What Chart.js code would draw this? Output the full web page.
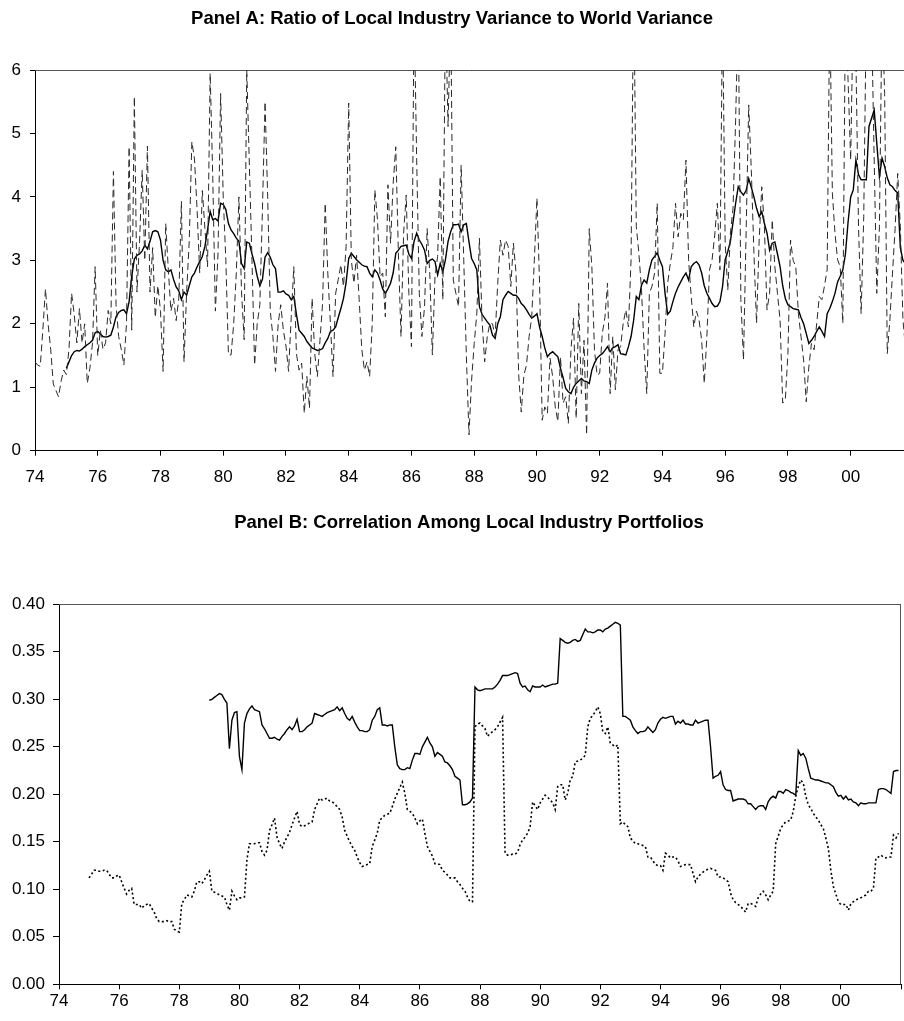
<!DOCTYPE html>
<html>
<head>
<meta charset="utf-8">
<script src="https://cdn.jsdelivr.net/npm/chart.js@4.4.1/dist/chart.umd.min.js"></script>
<style>
  html, body { margin: 0; padding: 0; background: #fff; overflow: hidden; }
  #panelA { position: absolute; left: 0; top: 0; }
  #panelB { position: absolute; left: 0; top: 500px; }
</style>
</head>
<body>
<canvas id="panelA" width="904" height="500"></canvas>
<canvas id="panelB" width="904" height="521"></canvas>
<script>
// ---------- Panel A: ratio of local industry variance to world variance (monthly) ----------
// Monthly ratio, Jan 1974 onward
const ratioMonthly = [
  1.40, 1.35, 1.33, 1.90, 2.55, 2.00, 1.60, 1.05, 0.95, 0.85, 1.10, 1.27, // 1974
  1.20, 1.60, 2.48, 2.15, 1.70, 2.24, 1.70, 2.00, 1.06, 1.30, 1.70, 2.90, // 1975
  1.50, 1.90, 1.60, 1.70, 2.21, 2.00, 4.40, 2.30, 1.80, 1.60, 1.35, 2.00, // 1976
  4.79, 1.90, 5.58, 2.50, 3.30, 4.42, 3.00, 4.80, 2.50, 3.20, 2.10, 2.60, // 1977
  2.20, 1.25, 3.58, 2.85, 2.20, 2.40, 2.05, 2.40, 3.93, 1.40, 2.50, 3.30, // 1978
  4.87, 4.60, 3.80, 2.80, 4.10, 3.50, 2.90, 5.95, 4.30, 2.20, 3.10, 5.63, // 1979
  4.00, 3.00, 1.51, 1.51, 2.00, 2.80, 4.00, 2.50, 1.75, 6.00, 4.50, 3.00, // 1980
  1.35, 2.00, 2.30, 3.80, 5.50, 4.00, 2.20, 1.80, 1.25, 2.00, 2.30, 1.90, // 1981
  1.65, 1.25, 2.10, 2.90, 1.53, 1.27, 1.38, 0.59, 1.17, 0.67, 2.40, 1.53, // 1982
  1.17, 1.74, 2.32, 3.90, 2.80, 2.00, 1.17, 2.48, 2.70, 2.93, 2.59, 3.22, // 1983
  5.48, 3.00, 2.64, 3.08, 2.38, 1.60, 1.27, 1.40, 1.17, 2.01, 4.11, 3.64, // 1984
  2.74, 2.80, 2.11, 4.19, 3.27, 4.21, 4.79, 3.11, 1.80, 3.43, 4.03, 2.48, // 1985
  1.64, 7.00, 4.58, 2.48, 1.80, 2.27, 3.50, 2.80, 1.51, 2.74, 3.06, 4.32, // 1986
  2.38, 7.00, 5.11, 7.00, 2.69, 2.48, 2.27, 4.50, 3.01, 1.50, 0.25, 1.11, // 1987
  1.69, 2.16, 3.35, 2.06, 1.40, 1.80, 2.01, 2.00, 1.80, 2.64, 3.32, 3.08, // 1988
  3.32, 3.22, 2.59, 3.27, 2.80, 1.20, 0.61, 1.19, 1.35, 1.80, 2.11, 3.00, // 1989
  3.98, 2.64, 0.48, 0.69, 0.59, 1.46, 1.17, 0.69, 0.46, 1.48, 0.75, 0.85, // 1990
  0.43, 1.59, 2.09, 0.51, 2.32, 0.90, 1.74, 0.25, 3.50, 2.90, 1.59, 1.19, // 1991
  1.22, 1.85, 2.10, 2.64, 0.90, 1.80, 0.96, 1.59, 1.64, 2.01, 2.22, 1.95, // 1992
  3.01, 7.50, 3.53, 3.11, 2.53, 1.60, 0.90, 2.48, 2.59, 2.80, 3.90, 1.22, // 1993
  1.22, 1.85, 2.64, 2.95, 3.20, 3.90, 3.37, 3.74, 3.64, 4.58, 3.01, 2.43, // 1994
  1.95, 2.20, 2.06, 1.74, 1.06, 1.80, 2.85, 3.01, 3.40, 3.90, 2.85, 7.00, // 1995
  3.27, 2.53, 3.43, 3.82, 5.21, 7.00, 2.38, 1.43, 3.43, 5.45, 4.42, 3.11, // 1996
  2.01, 3.32, 4.16, 3.53, 2.22, 2.48, 3.64, 2.90, 2.48, 2.06, 0.75, 0.80, // 1997
  1.53, 3.32, 3.00, 2.90, 2.16, 1.80, 1.43, 0.77, 1.32, 1.69, 1.59, 2.00, // 1998
  2.43, 2.38, 2.60, 2.85, 7.00, 4.06, 3.43, 3.01, 2.90, 2.01, 7.00, 5.84, // 1999
  4.58, 7.00, 6.20, 3.53, 2.16, 3.69, 7.00, 7.50, 6.80, 4.58, 2.48, 3.53, // 2000
  7.00, 5.63, 1.53, 2.06, 2.80, 3.50, 4.37, 3.53, 2.06, 1.60              // 2001
];

// Smoothed ratio, Jan 1975 onward
const ratioSmoothed = [
  1.30, 1.40, 1.50, 1.56, 1.58, 1.57, 1.60, 1.64, 1.67, 1.70, 1.74, 1.86, // 1975
  1.88, 1.84, 1.80, 1.79, 1.80, 1.82, 1.95, 2.11, 2.18, 2.21, 2.22, 2.16, // 1976
  2.35, 2.75, 3.02, 3.08, 3.10, 3.15, 3.24, 3.18, 3.30, 3.45, 3.47, 3.45, // 1977
  3.32, 3.00, 2.85, 2.82, 2.85, 2.70, 2.58, 2.52, 2.38, 2.50, 2.45, 2.60, // 1978
  2.74, 2.80, 2.90, 2.98, 3.06, 3.22, 3.48, 3.77, 3.64, 3.66, 3.62, 3.90, // 1979
  3.88, 3.80, 3.58, 3.48, 3.42, 3.35, 3.30, 2.95, 2.87, 3.29, 3.27, 3.10, // 1980
  2.95, 2.75, 2.60, 2.70, 3.05, 3.12, 3.05, 2.93, 2.87, 2.50, 2.50, 2.52, // 1981
  2.47, 2.45, 2.38, 2.43, 2.15, 1.90, 1.85, 1.80, 1.72, 1.67, 1.62, 1.60, // 1982
  1.58, 1.59, 1.61, 1.70, 1.77, 1.88, 1.90, 1.95, 2.10, 2.24, 2.40, 2.65, // 1983
  3.03, 3.11, 3.06, 3.01, 2.97, 2.93, 2.91, 2.90, 2.80, 2.74, 2.85, 2.80, // 1984
  2.69, 2.55, 2.48, 2.55, 2.64, 2.80, 3.11, 3.16, 3.22, 3.23, 3.24, 3.10, // 1985
  3.03, 3.30, 3.43, 3.32, 3.25, 3.16, 2.95, 3.00, 3.02, 2.98, 2.77, 2.95, // 1986
  2.82, 3.01, 3.30, 3.45, 3.56, 3.56, 3.57, 3.45, 3.56, 3.58, 3.29, 3.03, // 1987
  2.95, 2.85, 2.27, 2.15, 2.09, 2.03, 1.98, 1.82, 1.77, 2.00, 2.11, 2.38, // 1988
  2.45, 2.51, 2.48, 2.45, 2.45, 2.40, 2.32, 2.28, 2.22, 2.15, 2.09, 2.12, // 1989
  2.16, 1.95, 1.80, 1.62, 1.48, 1.53, 1.56, 1.52, 1.48, 1.30, 1.15, 0.98, // 1990
  0.93, 0.90, 1.00, 1.06, 1.10, 1.14, 1.10, 1.09, 1.06, 1.27, 1.38, 1.46, // 1991
  1.50, 1.53, 1.58, 1.64, 1.56, 1.62, 1.64, 1.67, 1.53, 1.52, 1.51, 1.64, // 1992
  1.80, 2.06, 2.43, 2.38, 2.61, 2.69, 2.64, 2.85, 3.01, 3.06, 3.12, 3.00, // 1993
  2.90, 2.48, 2.15, 2.20, 2.35, 2.48, 2.58, 2.66, 2.74, 2.80, 2.69, 2.90, // 1994
  2.95, 2.98, 2.93, 2.80, 2.60, 2.48, 2.40, 2.32, 2.27, 2.28, 2.35, 2.59, // 1995
  3.01, 3.14, 3.30, 3.60, 3.90, 4.16, 4.08, 4.03, 4.10, 4.29, 4.15, 4.00, // 1996
  3.82, 3.69, 3.77, 3.58, 3.43, 3.16, 3.27, 3.29, 3.10, 2.90, 2.60, 2.40, // 1997
  2.30, 2.27, 2.24, 2.23, 2.22, 2.10, 2.00, 1.85, 1.69, 1.74, 1.80, 1.88, // 1998
  1.95, 1.88, 1.80, 2.16, 2.24, 2.35, 2.48, 2.66, 2.75, 2.85, 3.10, 3.60, // 1999
  4.00, 4.11, 4.58, 4.35, 4.27, 4.27, 4.27, 5.11, 5.24, 5.37, 4.84, 4.32, // 2000
  4.61, 4.48, 4.30, 4.19, 4.16, 4.10, 4.06, 3.20, 3.00, 2.95              // 2001
];

// ---------- Panel B: correlation among local industry portfolios ----------
// Upper (solid) series, Jan 1979 onward
const corrSolid = [
  0.299, 0.300, 0.302, 0.304, 0.306, 0.305, 0.300, 0.296, 0.248, 0.278, 0.286, 0.287, // 1979
  0.240, 0.226, 0.275, 0.285, 0.290, 0.293, 0.289, 0.288, 0.287, 0.273, 0.269, 0.264, // 1980
  0.259, 0.259, 0.260, 0.258, 0.257, 0.261, 0.264, 0.268, 0.271, 0.268, 0.272, 0.279, // 1981
  0.266, 0.266, 0.268, 0.271, 0.273, 0.275, 0.285, 0.284, 0.283, 0.282, 0.284, 0.286, // 1982
  0.287, 0.288, 0.289, 0.292, 0.288, 0.291, 0.285, 0.280, 0.278, 0.282, 0.276, 0.271, // 1983
  0.267, 0.267, 0.266, 0.266, 0.268, 0.278, 0.282, 0.289, 0.291, 0.273, 0.273, 0.272, // 1984
  0.273, 0.273, 0.250, 0.231, 0.227, 0.226, 0.226, 0.228, 0.227, 0.236, 0.243, 0.243, // 1985
  0.242, 0.250, 0.255, 0.260, 0.254, 0.250, 0.240, 0.244, 0.242, 0.240, 0.234, 0.233, // 1986
  0.230, 0.226, 0.219, 0.217, 0.215, 0.189, 0.189, 0.190, 0.192, 0.196, 0.313, 0.310, // 1987
  0.309, 0.310, 0.311, 0.311, 0.311, 0.311, 0.313, 0.316, 0.320, 0.325, 0.325, 0.325, // 1988
  0.326, 0.327, 0.328, 0.327, 0.317, 0.313, 0.314, 0.310, 0.308, 0.314, 0.313, 0.313, // 1989
  0.313, 0.315, 0.313, 0.314, 0.315, 0.316, 0.316, 0.317, 0.364, 0.362, 0.360, 0.359, // 1990
  0.360, 0.362, 0.363, 0.361, 0.362, 0.368, 0.374, 0.371, 0.371, 0.370, 0.371, 0.373, // 1991
  0.373, 0.371, 0.374, 0.375, 0.377, 0.379, 0.381, 0.380, 0.378, 0.282, 0.282, 0.280, // 1992
  0.278, 0.271, 0.267, 0.264, 0.266, 0.266, 0.267, 0.271, 0.268, 0.265, 0.268, 0.275, // 1993
  0.279, 0.281, 0.280, 0.281, 0.282, 0.282, 0.274, 0.277, 0.275, 0.278, 0.274, 0.274, // 1994
  0.273, 0.273, 0.278, 0.275, 0.276, 0.277, 0.278, 0.278, 0.250, 0.217, 0.219, 0.220, // 1995
  0.224, 0.210, 0.205, 0.204, 0.204, 0.193, 0.194, 0.195, 0.195, 0.195, 0.194, 0.190, // 1996
  0.190, 0.187, 0.184, 0.187, 0.188, 0.188, 0.184, 0.192, 0.196, 0.198, 0.196, 0.203, // 1997
  0.203, 0.201, 0.205, 0.204, 0.202, 0.201, 0.199, 0.246, 0.241, 0.243, 0.238, 0.227, // 1998
  0.217, 0.216, 0.215, 0.215, 0.214, 0.213, 0.212, 0.212, 0.210, 0.208, 0.202, 0.198, // 1999
  0.199, 0.195, 0.198, 0.194, 0.195, 0.192, 0.191, 0.188, 0.191, 0.190, 0.190, 0.191, // 2000
  0.191, 0.191, 0.191, 0.205, 0.206, 0.206, 0.205, 0.203, 0.201, 0.224, 0.225, 0.225  // 2001
];

// Lower (dotted) series, Jan 1975 onward
const corrDotted = [
  0.112, 0.116, 0.120, 0.120, 0.119, 0.119, 0.120, 0.120, 0.116, 0.112, 0.112, 0.114, // 1975
  0.115, 0.108, 0.101, 0.095, 0.099, 0.101, 0.084, 0.084, 0.084, 0.080, 0.083, 0.084, // 1976
  0.085, 0.080, 0.076, 0.069, 0.066, 0.066, 0.066, 0.067, 0.066, 0.066, 0.058, 0.056, // 1977
  0.055, 0.085, 0.089, 0.094, 0.093, 0.092, 0.098, 0.108, 0.108, 0.106, 0.110, 0.115, // 1978
  0.119, 0.098, 0.097, 0.096, 0.094, 0.093, 0.092, 0.084, 0.078, 0.098, 0.093, 0.089, // 1979
  0.091, 0.091, 0.092, 0.131, 0.148, 0.148, 0.148, 0.149, 0.149, 0.140, 0.136, 0.141, // 1980
  0.162, 0.168, 0.175, 0.155, 0.148, 0.143, 0.150, 0.155, 0.160, 0.168, 0.175, 0.182, // 1981
  0.168, 0.166, 0.167, 0.168, 0.170, 0.171, 0.184, 0.190, 0.196, 0.194, 0.195, 0.196, // 1982
  0.193, 0.192, 0.190, 0.187, 0.184, 0.176, 0.162, 0.156, 0.150, 0.145, 0.141, 0.134, // 1983
  0.128, 0.124, 0.125, 0.126, 0.127, 0.145, 0.152, 0.159, 0.173, 0.175, 0.178, 0.179, // 1984
  0.180, 0.187, 0.195, 0.201, 0.207, 0.213, 0.201, 0.184, 0.182, 0.180, 0.175, 0.169, // 1985
  0.172, 0.174, 0.159, 0.145, 0.140, 0.135, 0.127, 0.127, 0.126, 0.120, 0.118, 0.115, // 1986
  0.112, 0.112, 0.112, 0.108, 0.105, 0.101, 0.098, 0.092, 0.087, 0.087, 0.271, 0.274, // 1987
  0.275, 0.272, 0.269, 0.261, 0.264, 0.266, 0.268, 0.271, 0.276, 0.281, 0.138, 0.136, // 1988
  0.136, 0.137, 0.137, 0.139, 0.147, 0.152, 0.155, 0.159, 0.166, 0.192, 0.188, 0.184, // 1989
  0.191, 0.195, 0.199, 0.197, 0.194, 0.191, 0.184, 0.208, 0.210, 0.210, 0.194, 0.201, // 1990
  0.215, 0.219, 0.234, 0.235, 0.236, 0.238, 0.241, 0.271, 0.280, 0.283, 0.287, 0.292, // 1991
  0.285, 0.266, 0.264, 0.271, 0.254, 0.252, 0.250, 0.252, 0.169, 0.171, 0.168, 0.166, // 1992
  0.154, 0.151, 0.148, 0.148, 0.147, 0.146, 0.145, 0.134, 0.134, 0.130, 0.126, 0.125, // 1993
  0.125, 0.120, 0.138, 0.136, 0.133, 0.134, 0.134, 0.130, 0.124, 0.125, 0.126, 0.126, // 1994
  0.126, 0.117, 0.108, 0.113, 0.116, 0.118, 0.120, 0.121, 0.122, 0.121, 0.120, 0.113, // 1995
  0.113, 0.112, 0.110, 0.108, 0.096, 0.089, 0.086, 0.084, 0.082, 0.079, 0.076, 0.085, // 1996
  0.085, 0.084, 0.082, 0.091, 0.095, 0.098, 0.094, 0.089, 0.094, 0.098, 0.148, 0.156, // 1997
  0.164, 0.168, 0.171, 0.172, 0.173, 0.182, 0.198, 0.208, 0.215, 0.212, 0.198, 0.189, // 1998
  0.185, 0.180, 0.176, 0.173, 0.168, 0.164, 0.154, 0.143, 0.120, 0.103, 0.095, 0.087, // 1999
  0.084, 0.084, 0.084, 0.078, 0.085, 0.087, 0.089, 0.090, 0.091, 0.093, 0.094, 0.098, // 2000
  0.098, 0.101, 0.133, 0.134, 0.136, 0.134, 0.133, 0.134, 0.134, 0.157, 0.154, 0.159  // 2001
];

// Axis ticks
const yearTicksA = [1974, 1976, 1978, 1980, 1982, 1984, 1986, 1988, 1990, 1992, 1994, 1996, 1998, 2000];
const yearTicksB = [1974, 1976, 1978, 1980, 1982, 1984, 1986, 1988, 1990, 1992, 1994, 1996, 1998, 2000, 2002];
const ratioTicks = [0, 1, 2, 3, 4, 5, 6];
const corrTicks = [0, 0.05, 0.10, 0.15, 0.20, 0.25, 0.30, 0.35, 0.40];

const FONT = "'Liberation Sans', Arial, Helvetica, sans-serif";

// One point per month, placed at startYear + month/12
function monthly(startYear, values) {
  return values.map((v, i) => ({ x: startYear + i / 12, y: v }));
}

// Two-digit year label; the closing tick at 2002 stays unlabelled
function yearLabel(v) {
  return v >= 2002 ? '' : String(Math.round(v) % 100).padStart(2, '0');
}

// Thin grey frame along the top (and optionally right) side of the plot area
const plotFrame = {
  id: 'plotFrame',
  beforeDatasetsDraw(chart, args, opts) {
    const { ctx, chartArea: a } = chart;
    ctx.save();
    ctx.strokeStyle = opts.color || '#555';
    ctx.lineWidth = 1;
    ctx.beginPath();
    const top = Math.round(a.top) + 0.5;
    ctx.moveTo(a.left, top);
    ctx.lineTo(a.right, top);
    if (opts.right) {
      const r = Math.round(a.right) - 0.5;
      ctx.moveTo(r, a.top);
      ctx.lineTo(r, a.bottom);
    }
    ctx.stroke();
    ctx.restore();
  }
};

// Lets the title block start further right than the canvas edge, so the
// heading is centred over the space between that point and the right edge
const titleInset = {
  id: 'titleInset',
  afterLayout(chart, args, opts) {
    if (chart.titleBlock && opts.left) {
      chart.titleBlock.left = opts.left;
    }
  }
};

function xAxis(max, ticks, height, pad) {
  return {
    type: 'linear', min: 1974, max: max,
    afterBuildTicks: s => { s.ticks = ticks.map(v => ({ value: v })); },
    afterFit: s => { s.height = height; },
    ticks: { callback: yearLabel, font: { family: FONT, size: 17 }, color: '#000',
             padding: pad, maxRotation: 0, autoSkip: false },
    grid: { drawOnChartArea: false, drawTicks: true, tickLength: 5, tickColor: '#000', tickWidth: 1 },
    border: { display: true, color: '#000', width: 1 }
  };
}

function yAxis(max, ticks, width, tickLen, pad, fmt) {
  return {
    type: 'linear', min: 0, max: max,
    afterBuildTicks: s => { s.ticks = ticks.map(v => ({ value: v })); },
    afterFit: s => { s.width = width; },
    ticks: { callback: fmt, font: { family: FONT, size: 17 }, color: '#000',
             padding: pad, autoSkip: false },
    grid: { drawOnChartArea: false, drawTicks: true, tickLength: tickLen, tickColor: '#000', tickWidth: 1 },
    border: { display: true, color: '#000', width: 1 }
  };
}

function titleOpts(text, top, bottom) {
  return { display: true, text: text, color: '#000',
           font: { family: FONT, size: 18.5, weight: 'bold', lineHeight: 1.2 },
           padding: { top: top, bottom: bottom } };
}

// Panel A
new Chart(document.getElementById('panelA'), {
  type: 'line',
  data: {
    datasets: [
      { label: 'Monthly ratio', data: monthly(1974, ratioMonthly), borderColor: '#2a2a2a',
        borderWidth: 1, borderDash: [7, 4], pointRadius: 0, tension: 0, fill: false },
      { label: 'Smoothed ratio', data: monthly(1975, ratioSmoothed), borderColor: '#000',
        borderWidth: 1.4, pointRadius: 0, tension: 0, fill: false }
    ]
  },
  options: {
    responsive: false, animation: false, devicePixelRatio: 1,
    layout: { padding: { left: 0, right: 0, top: 0, bottom: 0 } },
    plugins: {
      legend: { display: false }, tooltip: { enabled: false },
      title: titleOpts('Panel A: Ratio of Local Industry Variance to World Variance', 7.4, 40.4),
      plotFrame: { color: '#555', right: false }
    },
    scales: {
      x: xAxis(2001.7, yearTicksA, 49.3, 11.6),
      y: yAxis(6, ratioTicks, 35, 5, 9, v => String(v))
    }
  },
  plugins: [plotFrame]
});

// Panel B
new Chart(document.getElementById('panelB'), {
  type: 'line',
  data: {
    datasets: [
      { label: 'Upper correlation', data: monthly(1979, corrSolid), borderColor: '#000',
        borderWidth: 1.4, pointRadius: 0, tension: 0, fill: false },
      { label: 'Lower correlation', data: monthly(1975, corrDotted), borderColor: '#000',
        borderWidth: 1.6, borderDash: [2, 2.5], pointRadius: 0, tension: 0, fill: false }
    ]
  },
  options: {
    responsive: false, animation: false, devicePixelRatio: 1,
    layout: { padding: { left: 0, right: 3, top: 0, bottom: 0 } },
    plugins: {
      legend: { display: false }, tooltip: { enabled: false },
      title: titleOpts('Panel B: Correlation Among Local Industry Portfolios', 11.9, 70.2),
      plotFrame: { color: '#555', right: true },
      titleInset: { left: 37 }
    },
    scales: {
      x: xAxis(2002, yearTicksB, 36.7, 1.5),
      y: yAxis(0.40, corrTicks, 59, 6, 8, v => v.toFixed(2))
    }
  },
  plugins: [plotFrame, titleInset]
});
</script>
</body>
</html>
